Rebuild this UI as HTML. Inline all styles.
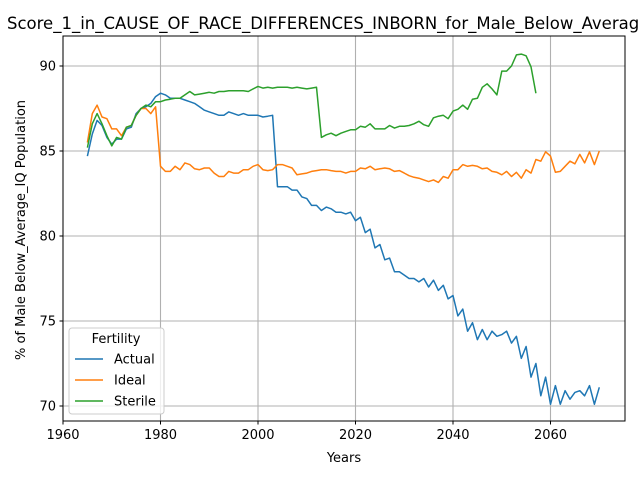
<!DOCTYPE html>
<html><head><meta charset="utf-8"><style>
body{margin:0;background:#fff}
svg text{font-family:"DejaVu Sans","Liberation Sans",sans-serif}
</style></head><body>
<svg id="chart" width="640" height="480" xmlns="http://www.w3.org/2000/svg">
<rect width="640" height="480" fill="#fff"/>
<g id="grid"></g>
<g id="lines"></g>
<rect x="63" y="36" width="562" height="385" fill="none" stroke="#000" stroke-width="1"/>
<g id="ticks"></g>
<text x="7" y="29" font-size="16.5" text-anchor="start">Score_1_in_CAUSE_OF_RACE_DIFFERENCES_INBORN_for_Male_Below_Average_IQ</text>
<text x="344" y="462" font-size="13" text-anchor="middle">Years</text>
<text transform="translate(25,230) rotate(-90)" font-size="13" text-anchor="middle">% of Male Below_Average_IQ Population</text>
<g>
<rect x="69" y="328" width="95" height="86" rx="3" fill="#fff" fill-opacity="0.8" stroke="#ccc"/>
<text x="116" y="343" font-size="13" text-anchor="middle">Fertility</text>
<g id="legend"></g>
</g>
</svg>
<script>
const years = [];
for (let y = 1965; y <= 2070; y++) years.push(y);
const actual = [84.7,86.0,86.8,86.5,85.8,85.4,85.7,85.7,86.3,86.4,87.2,87.5,87.6,87.8,88.2,88.4,88.3,88.1,88.1,88.1,88.0,87.9,87.8,87.6,87.4,87.3,87.2,87.1,87.1,87.3,87.2,87.1,87.2,87.1,87.1,87.1,87.0,87.05,87.1,82.9,82.9,82.9,82.7,82.7,82.3,82.2,81.8,81.8,81.5,81.7,81.6,81.4,81.4,81.3,81.4,80.9,81.1,80.2,80.4,79.3,79.5,78.6,78.7,77.9,77.9,77.7,77.5,77.5,77.3,77.5,77.0,77.4,76.8,77.1,76.3,76.5,75.3,75.7,74.4,74.9,73.9,74.5,73.9,74.4,74.1,74.2,74.4,73.7,74.1,72.8,73.5,71.7,72.5,70.6,71.7,70.1,71.2,70.1,70.9,70.4,70.8,70.9,70.6,71.2,70.1,71.1];
const ideal = [85.5,87.2,87.7,87.0,86.9,86.3,86.3,85.9,86.4,86.5,87.1,87.5,87.5,87.2,87.6,84.1,83.8,83.8,84.1,83.9,84.3,84.2,83.95,83.9,84.0,84.0,83.7,83.5,83.5,83.8,83.7,83.7,83.9,83.9,84.1,84.2,83.9,83.85,83.9,84.2,84.2,84.1,84.0,83.6,83.65,83.7,83.8,83.85,83.9,83.9,83.85,83.8,83.8,83.7,83.8,83.8,84.0,83.95,84.1,83.9,83.95,84.0,83.95,83.8,83.85,83.7,83.55,83.45,83.4,83.3,83.2,83.3,83.15,83.5,83.4,83.9,83.9,84.2,84.1,84.15,84.1,83.95,84.0,83.8,83.75,83.6,83.8,83.5,83.75,83.4,83.9,83.7,84.5,84.4,84.95,84.7,83.75,83.8,84.1,84.4,84.25,84.8,84.3,84.95,84.2,85.0];
const sterile = [85.2,86.6,87.2,86.6,85.9,85.3,85.8,85.7,86.4,86.5,87.1,87.5,87.7,87.6,87.9,87.9,88.0,88.05,88.1,88.1,88.3,88.5,88.3,88.35,88.4,88.45,88.4,88.5,88.5,88.55,88.55,88.55,88.55,88.5,88.65,88.8,88.7,88.75,88.7,88.75,88.75,88.75,88.7,88.75,88.7,88.65,88.7,88.75,85.8,85.95,86.05,85.9,86.05,86.15,86.25,86.25,86.45,86.4,86.6,86.3,86.3,86.3,86.5,86.35,86.45,86.45,86.5,86.6,86.75,86.55,86.45,86.95,87.05,87.1,86.9,87.35,87.45,87.7,87.45,88.05,88.1,88.75,88.95,88.65,88.3,89.7,89.7,90.0,90.65,90.7,90.6,89.95,88.4];
const xTicks = [1960,1980,2000,2020,2040,2060];
const yTicks = [70,75,80,85,90];
const seriesNames = ["Actual","Ideal","Sterile"];
const colors = ["#1f77b4","#ff7f0e","#2ca02c"];

const X = v => 63 + (v - 1960) * 97.5 / 20;
const Y = v => 406 - (v - 70) * 17;
const NS = "http://www.w3.org/2000/svg";
function mk(tag, attrs, parent){const e=document.createElementNS(NS,tag);for(const k in attrs)e.setAttribute(k,attrs[k]);parent.appendChild(e);return e;}
const grid=document.getElementById('grid'), ticks=document.getElementById('ticks'), lines=document.getElementById('lines'), legend=document.getElementById('legend');

xTicks.forEach(t=>{
  const g=mk('line',{x1:X(t),x2:X(t),y1:36,y2:421,stroke:'#b0b0b0','stroke-width':1.1},grid);
  
  
  mk('line',{x1:X(t),x2:X(t),y1:421,y2:424.5,stroke:'#000'},ticks);
  const tx=mk('text',{x:X(t),y:439,'font-size':13,'text-anchor':'middle'},ticks);
  tx.textContent=t;
  
  
});
yTicks.forEach(t=>{
  const g=mk('line',{x1:63,x2:625,y1:Y(t),y2:Y(t),stroke:'#b0b0b0','stroke-width':1.1},grid);
  
  
  mk('line',{x1:59.5,x2:63,y1:Y(t),y2:Y(t),stroke:'#000'},ticks);
  const tx=mk('text',{x:56,y:Y(t)+4.5,'font-size':13,'text-anchor':'end'},ticks);
  tx.textContent=t;
  
  
});
[actual,ideal,sterile].forEach((s,i)=>{
  const pts=s.map((v,j)=>X(years[j]).toFixed(1)+','+Y(v).toFixed(1)).join(' ');
  const p=mk('polyline',{points:pts,fill:'none',stroke:colors[i],'stroke-width':1.5,'stroke-linejoin':'round'},lines);
  
  
  const ly=359+i*21;
  const l=mk('line',{x1:75,x2:103,y1:ly,y2:ly,stroke:colors[i],'stroke-width':1.5},legend);
  
  
  const t=mk('text',{x:114,y:ly+4.5,'font-size':13},legend);
  t.textContent=seriesNames[i];
  
  
});
</script>
</body></html>
